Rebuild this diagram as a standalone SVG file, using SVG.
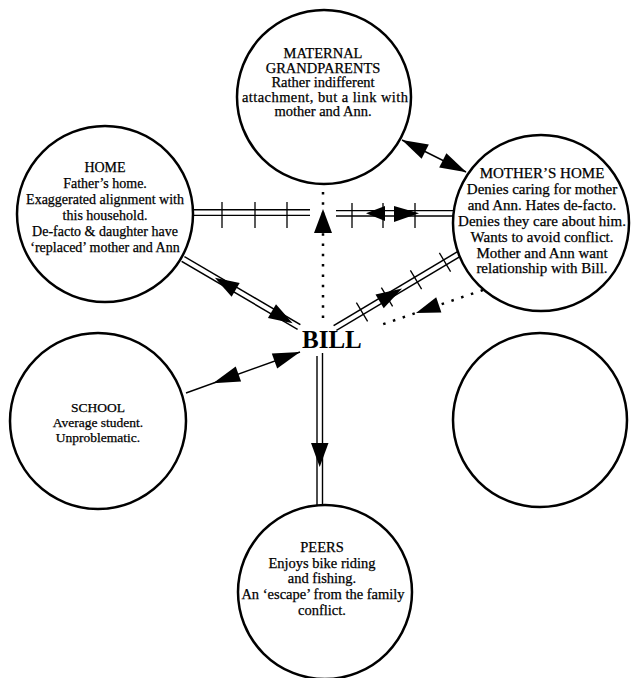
<svg xmlns="http://www.w3.org/2000/svg" width="634" height="678" viewBox="0 0 634 678">
<style>
.node{fill:#fff;stroke:#000;stroke-width:2.5}
.t{font-family:"Liberation Serif","Times New Roman",serif;font-size:14px;fill:#000;stroke:#000;stroke-width:0.25;text-anchor:middle}
.ln{stroke:#000;stroke-width:1.4;fill:none}
.dbl{stroke:#000;stroke-width:7;fill:none}
.dbw{stroke:#fff;stroke-width:4;fill:none}
.tick{stroke:#000;stroke-width:1.3;fill:none}
.dot{stroke:#000;stroke-width:2.5;fill:none;stroke-dasharray:2.5 7.8}
.ah{fill:#000;stroke:none}
.bill{font-family:"Liberation Serif","Times New Roman",serif;font-size:25px;font-weight:bold;fill:#000}
</style>
<rect width="634" height="678" fill="#fff"/>
<g id="connectors">
  <!-- HOME - MOTHER'S HOME horizontal double line -->
  <line class="ln" x1="192" y1="209.8" x2="310" y2="209.8"/>
  <line class="ln" x1="192" y1="215.4" x2="310" y2="215.4"/>
  <line class="ln" x1="336" y1="210.6" x2="455" y2="210.6"/>
  <line class="ln" x1="336" y1="216" x2="455" y2="216"/>
  <line class="tick" x1="222" y1="202" x2="222" y2="228"/>
  <line class="tick" x1="255" y1="202" x2="255" y2="228"/>
  <line class="tick" x1="287" y1="202" x2="287" y2="228"/>
  <line class="tick" x1="352" y1="203" x2="352" y2="228"/>
  <line class="tick" x1="383" y1="203" x2="383" y2="228"/>
  <line class="tick" x1="415" y1="203" x2="415" y2="228"/>
  <polygon class="ah" points="366,213.3 385,206 385,221"/>
  <polygon class="ah" points="419,213.3 394,206 394,222"/>
  <!-- dotted BILL -> GRANDPARENTS -->
  <line class="dot" x1="323" y1="192" x2="323" y2="324"/>
  <polygon class="ah" points="323,209 314,233 332,233"/>
  <!-- HOME <-> BILL double line -->
  <line class="dbl" x1="183" y1="259" x2="299" y2="327"/>
  <line class="dbw" x1="181" y1="257.8" x2="301" y2="328.2"/>
  <polygon class="ah" points="214.9,277.7 231.6,296.8 239.7,283"/>
  <polygon class="ah" points="292.6,323.3 267.9,318 276,304.2"/>
  <!-- SCHOOL <-> BILL -->
  <line class="ln" x1="186" y1="393" x2="300" y2="352"/>
  <polygon class="ah" points="213,383.3 235.7,366.6 241.1,381.6"/>
  <polygon class="ah" points="300,352 271.8,353.6 277.2,368.6"/>
  <!-- BILL -> PEERS double vertical -->
  <line class="ln" x1="317" y1="356" x2="317" y2="506"/>
  <line class="ln" x1="322.5" y1="353" x2="322.5" y2="506"/>
  <polygon class="ah" points="319.7,467 311,443 328.5,443"/>
  <!-- MOTHER'S HOME <-> BILL double line with ticks -->
  <line class="dbl" x1="464" y1="251" x2="335" y2="328"/>
  <line class="dbw" x1="466" y1="249.8" x2="333" y2="329.2"/>
  <line class="tick" x1="439.4" y1="252.9" x2="450.6" y2="271.7"/>
  <line class="tick" x1="410.4" y1="270.3" x2="421.6" y2="289.1"/>
  <line class="tick" x1="381.4" y1="287.6" x2="392.6" y2="306.4"/>
  <line class="tick" x1="356.4" y1="302.6" x2="367.6" y2="321.4"/>
  <polygon class="ah" points="402,288.5 375.5,294.5 383.7,308.3"/>
  <!-- dotted MOTHER'S HOME -> BILL -->
  <line class="dot" x1="483" y1="290" x2="379" y2="325.6"/>
  <polygon class="ah" points="416,313 436.2,297.3 441.4,312.5"/>
  <!-- GRANDPARENTS <-> MOTHER'S HOME -->
  <line class="ln" x1="402" y1="140" x2="466" y2="172"/>
  <polygon class="ah" points="402,140 421.6,158.8 428.8,144.4"/>
  <polygon class="ah" points="466.5,172.3 439.2,167.6 446.4,153.2"/>
</g>
<g id="grandparents">
  <circle class="node" cx="324" cy="97" r="87"/>
  <text class="t" style="font-size:14.5px" x="323" y="58">MATERNAL</text>
  <text class="t" style="font-size:14.5px" x="323" y="72.5">GRANDPARENTS</text>
  <text class="t" style="font-size:14.5px" x="323" y="87">Rather indifferent</text>
  <text class="t" style="font-size:14.5px" x="325" y="101.5" textLength="166" lengthAdjust="spacing">attachment, but a link with</text>
  <text class="t" style="font-size:14.5px" x="323" y="116">mother and Ann.</text>
</g>
<g id="home">
  <circle class="node" cx="105" cy="214" r="88"/>
  <text class="t" x="105" y="172">HOME</text>
  <text class="t" x="105" y="188">Father’s home.</text>
  <text class="t" x="105" y="204">Exaggerated alignment with</text>
  <text class="t" x="105" y="220">this household.</text>
  <text class="t" x="105" y="236">De-facto &amp; daughter have</text>
  <text class="t" x="105" y="252">‘replaced’ mother and Ann</text>
</g>
<g id="mothers-home">
  <circle class="node" cx="541" cy="223" r="88"/>
  <text class="t" style="font-size:15px" x="542" y="178">MOTHER’S HOME</text>
  <text class="t" style="font-size:15px" x="542" y="194">Denies caring for mother</text>
  <text class="t" style="font-size:15px" x="542" y="210">and Ann. Hates de-facto.</text>
  <text class="t" style="font-size:15px" x="542" y="226">Denies they care about him.</text>
  <text class="t" style="font-size:15px" x="542" y="242">Wants to avoid conflict.</text>
  <text class="t" style="font-size:15px" x="542" y="257.5">Mother and Ann want</text>
  <text class="t" style="font-size:15px" x="542" y="273">relationship with Bill.</text>
</g>
<g id="bill">
  <text class="bill" x="302" y="348">BILL</text>
</g>
<g id="school">
  <circle class="node" cx="98" cy="421" r="88"/>
  <text class="t" style="font-size:13.5px" x="98" y="412">SCHOOL</text>
  <text class="t" style="font-size:13.5px" x="98" y="427">Average student.</text>
  <text class="t" style="font-size:13.5px" x="98" y="442">Unproblematic.</text>
</g>
<g id="empty-node">
  <circle class="node" cx="540" cy="420" r="87"/>
</g>
<g id="peers">
  <circle class="node" cx="325" cy="592" r="87"/>
  <text class="t" style="font-size:14.5px" x="322" y="552">PEERS</text>
  <text class="t" style="font-size:14.5px" x="322" y="567.5">Enjoys bike riding</text>
  <text class="t" style="font-size:14.5px" x="322" y="583">and fishing.</text>
  <text class="t" style="font-size:14.5px" x="323" y="599">An ‘escape’ from the family</text>
  <text class="t" style="font-size:14.5px" x="322" y="615">conflict.</text>
</g>
</svg>
